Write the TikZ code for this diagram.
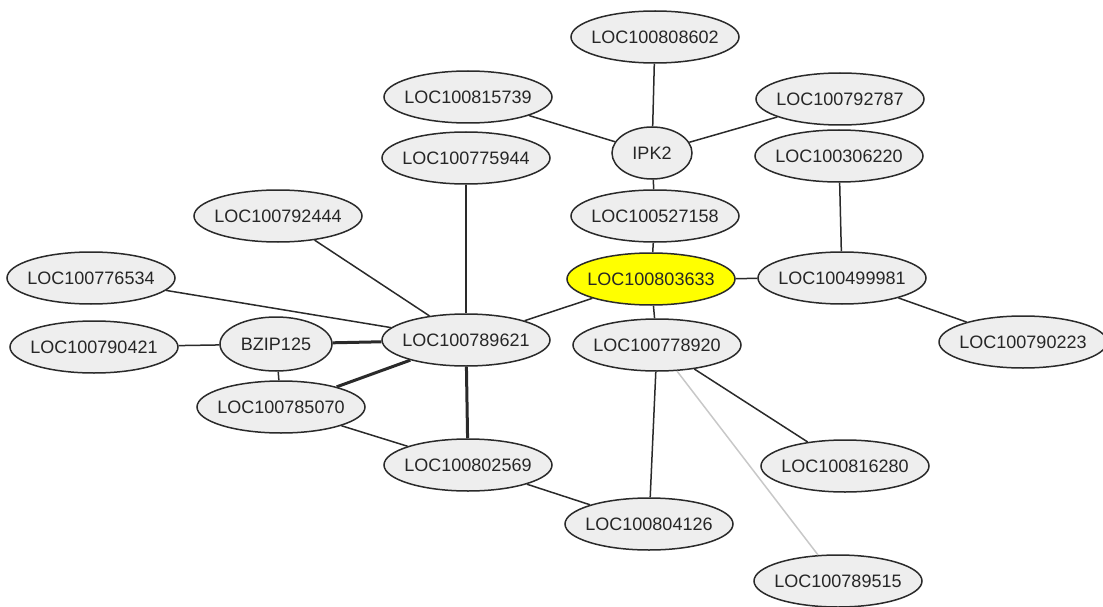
\documentclass[tikz,border=0pt]{standalone}
\usepackage{fontspec}
\setmainfont{Liberation Sans}
\usetikzlibrary{shapes.geometric}
\definecolor{nodefill}{HTML}{EEEEEE}
\definecolor{nodeline}{HTML}{2A2A2A}
\definecolor{edgecol}{HTML}{2A2A2A}
\definecolor{lightedge}{HTML}{C8C8C8}
\definecolor{hilite}{HTML}{FFFF00}
\tikzset{
  gene/.style={ellipse, draw=nodeline, line width=1.5pt, fill=nodefill,
    minimum width=168pt, minimum height=52pt, inner xsep=-6pt, inner ysep=0pt,
    font=\fontsize{18}{20}\selectfont, text=black!85},
  small/.style={gene, minimum width=80pt},
  mid/.style={gene, minimum width=112pt, minimum height=54pt},
  seed/.style={gene, fill=hilite},
  link/.style={draw=edgecol, line width=1.5pt},
  strong/.style={draw=edgecol, line width=3pt},
  faint/.style={draw=lightedge, line width=1.5pt}
}
\begin{document}
\begin{tikzpicture}[x=1pt, y=-1pt]
\useasboundingbox (0,0) rectangle (1103,607);
\node[gene]  (n808602) at (655,37)  {LOC100808602};
\node[gene]  (n815739) at (468,97)  {LOC100815739};
\node[gene]  (n792787) at (840,99)  {LOC100792787};
\node[small] (ipk2)    at (652,153) {IPK2};
\node[gene]  (n775944) at (466,158) {LOC100775944};
\node[gene]  (n306220) at (839,156) {LOC100306220};
\node[gene]  (n527158) at (655,216) {LOC100527158};
\node[gene]  (n792444) at (278,216) {LOC100792444};
\node[gene]  (n776534) at (91,278)  {LOC100776534};
\node[seed]  (n803633) at (651,279) {LOC100803633};
\node[gene]  (n499981) at (842,278) {LOC100499981};
\node[gene]  (n790421) at (94,347)  {LOC100790421};
\node[mid]   (bzip)    at (276,344) {BZIP125};
\node[gene]  (n789621) at (466,340) {LOC100789621};
\node[gene]  (n778920) at (657,345) {LOC100778920};
\node[gene]  (n790223) at (1023,342) {LOC100790223};
\node[gene]  (n785070) at (281,407) {LOC100785070};
\node[gene]  (n802569) at (468,465) {LOC100802569};
\node[gene]  (n816280) at (845,466) {LOC100816280};
\node[gene]  (n804126) at (649,524) {LOC100804126};
\node[gene]  (n789515) at (838,581) {LOC100789515};

\draw[link] (n808602) -- (ipk2);
\draw[link] (n815739) -- (ipk2);
\draw[link] (n792787) -- (ipk2);
\draw[link] (ipk2) -- (n527158);
\draw[link] (n527158) -- (n803633);
\draw[link] (n803633) -- (n499981);
\draw[link] (n306220) -- (n499981);
\draw[link] (n499981) -- (n790223);
\draw[link] (n803633) -- (n789621);
\draw[link] (n803633) -- (n778920);
\draw[link] (n775944) -- (n789621);
\draw[link] (n792444) -- (n789621);
\draw[link] (n776534) -- (n789621);
\draw[link] (n790421) -- (bzip);
\draw[strong] (bzip) -- (n789621);
\draw[link] (bzip) -- (n785070);
\draw[strong] (n785070) -- (n789621);
\draw[link] (n785070) -- (n802569);
\draw[strong] (n789621) -- (n802569);
\draw[link] (n802569) -- (n804126);
\draw[link] (n778920) -- (n804126);
\draw[link] (n778920) -- (n816280);
\draw[faint] (n778920) -- (n789515);
\end{tikzpicture}
\end{document}
